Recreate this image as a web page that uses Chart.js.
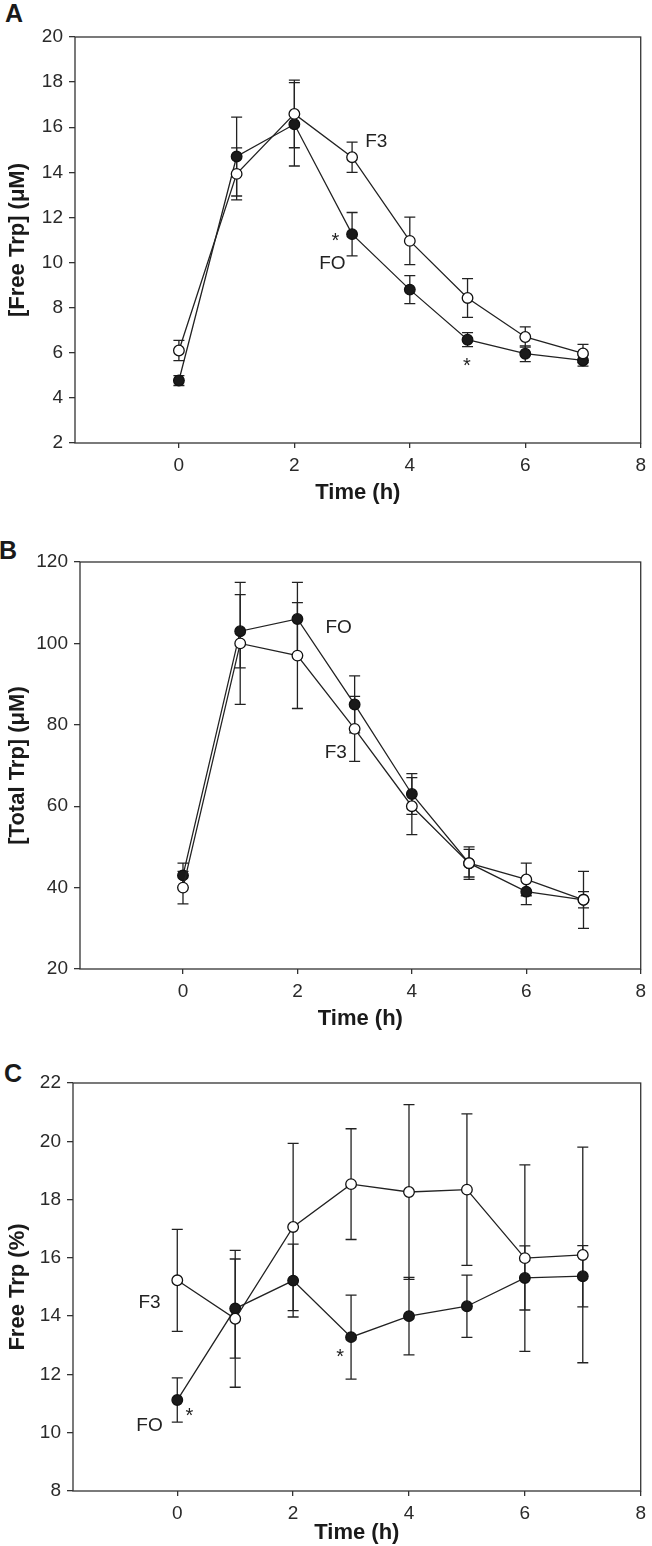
<!DOCTYPE html>
<html lang="en">
<head>
    <meta charset="UTF-8">
    <title>Free and total Trp over time</title>
    <script src="https://cdn.jsdelivr.net/npm/chart.js"></script>
    <style>
        body {
            margin: 0;
            padding: 0;
            background: #fff;
            width: 652px;
            height: 1546px;
            position: relative;
            overflow: hidden;
            font-family: 'Liberation Sans', Arial, sans-serif;
        }
        .panel {
            position: absolute;
            left: 0;
            width: 652px;
        }
        .letter {
            position: absolute;
            font-weight: bold;
            font-size: 25px;
            line-height: 1;
            color: #1a1a1a;
        }
    </style>
</head>
<body>

    <div class="letter" style="left:5px; top:1px;">A</div>
    <div class="letter" style="left:-1px; top:538px;">B</div>
    <div class="letter" style="left:4px; top:1061px;">C</div>

    <div class="panel" style="top:0; height:515px;"><canvas id="chartA"></canvas></div>
    <div class="panel" style="top:515px; height:525px;"><canvas id="chartB"></canvas></div>
    <div class="panel" style="top:1040px; height:506px;"><canvas id="chartC"></canvas></div>

    <script>
        // time points (h)
        const times = [0, 1, 2, 3, 4, 5, 6, 7];
        const xTicks = [0, 2, 4, 6, 8];

        // A: free Trp (uM), mean and SE
        const freeF3 = [6.1, 13.93, 16.59, 14.67, 10.96, 8.43, 6.7, 5.97];
        const freeF3Err = [0.45, 1.15, 1.5, 0.67, 1.05, 0.86, 0.45, 0.4];
        const freeFO = [4.77, 14.7, 16.13, 11.26, 8.8, 6.58, 5.96, 5.66];
        const freeFOErr = [0.22, 1.75, 1.85, 0.96, 0.62, 0.31, 0.35, 0.25];

        // B: total Trp (uM)
        const totalF3 = [40, 100, 97, 79, 60, 46, 42, 37];
        const totalF3Err = [4, 15, 13, 8, 7, 3.4, 4, 7];
        const totalFO = [43, 103, 106, 85, 63, 46, 39, 37];
        const totalFOErr = [3, 9, 9, 7, 5, 4, 3.2, 2];

        // C: free Trp (%)
        const pctF3 = [15.23, 13.91, 17.06, 18.53, 18.26, 18.34, 15.99, 16.1];
        const pctF3Err = [1.75, 2.35, 2.87, 1.9, 3.0, 2.6, 3.2, 3.7];
        const pctFO = [11.12, 14.26, 15.22, 13.28, 14.0, 14.34, 15.31, 15.37];
        const pctFOErr = [0.76, 1.7, 1.25, 1.44, 1.33, 1.07, 1.1, 1.05];

        // text labels inside the plots, in data units
        const notesA = [
            { text: 'F3', x: 3.42, y: 15.35 },
            { text: '*', x: 2.71, y: 11.13 },
            { text: 'FO', x: 2.66, y: 9.94 },
            { text: '*', x: 4.99, y: 5.55 }
        ];
        const notesB = [
            { text: 'FO', x: 2.72, y: 103.8 },
            { text: 'F3', x: 2.67, y: 73.1 }
        ];
        const notesC = [
            { text: 'F3', x: -0.48, y: 14.46 },
            { text: 'FO', x: -0.48, y: 10.23 },
            { text: '*', x: 0.21, y: 10.69 },
            { text: '*', x: 2.81, y: 12.72 }
        ];

        const FONT = "'Liberation Sans', Arial, sans-serif";
        const INK = '#222';

        // error bars, drawn under the markers
        const errorBars = {
            id: 'errorBars',
            beforeDatasetsDraw(chart) {
                const ctx = chart.ctx;
                const xs = chart.scales.x, ys = chart.scales.y;
                ctx.save();
                ctx.strokeStyle = INK;
                ctx.lineWidth = 1.3;
                chart.data.datasets.forEach(ds => {
                    ds.data.forEach((pt, i) => {
                        const px = xs.getPixelForValue(pt.x);
                        const top = ys.getPixelForValue(pt.y + ds.err[i]);
                        const bot = ys.getPixelForValue(pt.y - ds.err[i]);
                        ctx.beginPath();
                        ctx.moveTo(px, top); ctx.lineTo(px, bot);
                        ctx.moveTo(px - 5.5, top); ctx.lineTo(px + 5.5, top);
                        ctx.moveTo(px - 5.5, bot); ctx.lineTo(px + 5.5, bot);
                        ctx.stroke();
                    });
                });
                ctx.restore();
            }
        };

        // frame round the plot area and the text notes
        const frameAndNotes = {
            id: 'frameAndNotes',
            afterDraw(chart, args, opts) {
                const ctx = chart.ctx;
                const a = chart.chartArea;
                ctx.save();
                ctx.strokeStyle = '#333';
                ctx.lineWidth = 1.3;
                ctx.strokeRect(a.left, a.top, a.right - a.left, a.bottom - a.top);

                ctx.fillStyle = INK;
                ctx.textAlign = 'center';
                ctx.textBaseline = 'middle';
                (opts.notes || []).forEach(n => {
                    const px = chart.scales.x.getPixelForValue(n.x);
                    const py = chart.scales.y.getPixelForValue(n.y);
                    if (n.text === '*') {
                        ctx.font = '20px ' + FONT;
                        ctx.fillText(n.text, px, py + 4);
                    } else {
                        ctx.font = '19px ' + FONT;
                        ctx.fillText(n.text, px, py);
                    }
                });
                ctx.restore();
            }
        };

        function makePanel(id, p) {
            const series = [
                { label: 'F3', data: p.f3, err: p.f3Err, fill: '#ffffff' },
                { label: 'FO', data: p.fo, err: p.foErr, fill: '#1a1a1a' }
            ];
            return new Chart(document.getElementById(id), {
                type: 'line',
                data: {
                    datasets: series.map(s => ({
                        label: s.label,
                        data: s.data.map((v, i) => ({ x: times[i], y: v })),
                        err: s.err,
                        borderColor: INK,
                        borderWidth: 1.3,
                        pointRadius: 5.3,
                        pointBorderWidth: 1.3,
                        pointBorderColor: '#111',
                        pointBackgroundColor: s.fill,
                        tension: 0
                    }))
                },
                options: {
                    responsive: true,
                    maintainAspectRatio: false,
                    animation: false,
                    events: [],
                    layout: { padding: { top: p.top, right: p.right, bottom: 0, left: 0 } },
                    plugins: {
                        legend: { display: false },
                        tooltip: { enabled: false },
                        frameAndNotes: { notes: p.notes }
                    },
                    scales: {
                        x: {
                            type: 'linear',
                            min: -1.8,
                            max: 8,
                            afterBuildTicks: s => { s.ticks = xTicks.map(v => ({ value: v })); },
                            afterFit: s => { s.height = p.xh; },
                            border: { display: false },
                            grid: { drawOnChartArea: false, drawTicks: true, tickLength: 5, color: '#333', lineWidth: 1.3 },
                            ticks: { color: '#2a2a2a', padding: 6, font: { family: FONT, size: 19 } },
                            title: {
                                display: true,
                                text: 'Time (h)',
                                color: '#1a1a1a',
                                padding: { top: 0, bottom: p.xtPad },
                                font: { family: FONT, size: 22, weight: 'bold' }
                            }
                        },
                        y: {
                            min: p.yMin,
                            max: p.yMax,
                            ticks: { stepSize: p.yStep, color: '#2a2a2a', padding: 6, font: { family: FONT, size: 19 } },
                            afterFit: s => { s.width = p.left; },
                            border: { display: false },
                            grid: { drawOnChartArea: false, drawTicks: true, tickLength: 6, color: '#333', lineWidth: 1.3 },
                            title: {
                                display: true,
                                text: p.yTitle,
                                color: '#1a1a1a',
                                padding: { top: 5, bottom: 0 },
                                font: { family: FONT, size: 22, weight: 'bold' }
                            }
                        }
                    }
                },
                plugins: [errorBars, frameAndNotes]
            });
        }

        makePanel('chartA', {
            f3: freeF3, f3Err: freeF3Err, fo: freeFO, foErr: freeFOErr,
            yMin: 2, yMax: 20, yStep: 2, yTitle: '[Free Trp] (\u03bcM)',
            top: 37, right: 11, left: 75, xh: 72, xtPad: 9, notes: notesA
        });

        makePanel('chartB', {
            f3: totalF3, f3Err: totalF3Err, fo: totalFO, foErr: totalFOErr,
            yMin: 20, yMax: 120, yStep: 20, yTitle: '[Total Trp] (\u03bcM)',
            top: 47, right: 7, left: 80, xh: 71, xtPad: 8, notes: notesB
        });

        makePanel('chartC', {
            f3: pctF3, f3Err: pctF3Err, fo: pctFO, foErr: pctFOErr,
            yMin: 8, yMax: 22, yStep: 2, yTitle: 'Free Trp (%)',
            top: 43, right: 10, left: 73, xh: 55, xtPad: 0, notes: notesC
        });
    </script>
</body>
</html>
